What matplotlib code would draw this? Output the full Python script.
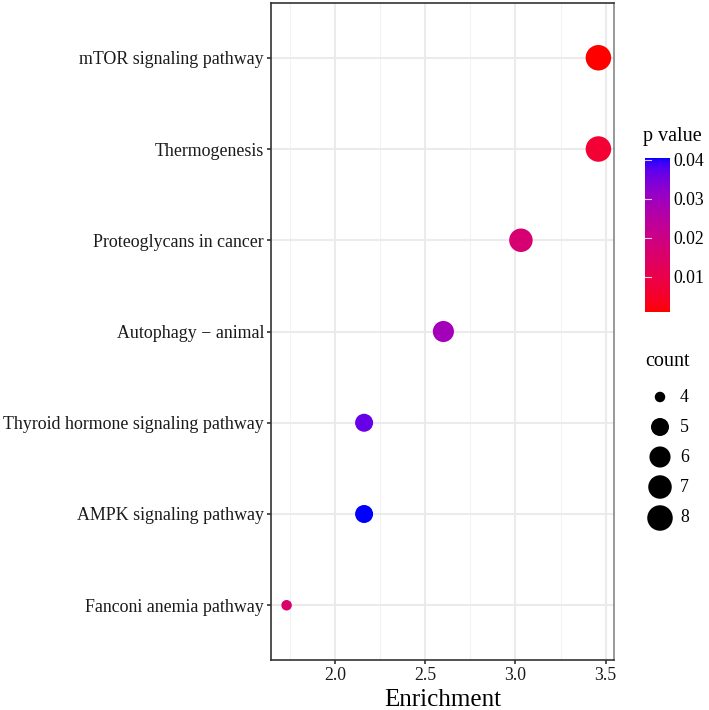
import numpy as np
import matplotlib
matplotlib.use("Agg")
import matplotlib.pyplot as plt
from matplotlib.colors import LinearSegmentedColormap, Normalize

plt.rcParams['font.family'] = ['Liberation Serif', 'DejaVu Serif']

# data (top to bottom as in the picture)
pathways = ["mTOR signaling pathway", "Thermogenesis", "Proteoglycans in cancer",
            "Autophagy \u2212 animal", "Thyroid hormone signaling pathway",
            "AMPK signaling pathway", "Fanconi anemia pathway"]
enrichment = [3.46, 3.46, 3.03, 2.60, 2.16, 2.16, 1.73]
pvalue = [0.0010, 0.0065, 0.0170, 0.0290, 0.0365, 0.0405, 0.0160]
count = [8, 8, 7, 6, 5, 5, 4]
legend_counts = [4, 5, 6, 7, 8]
cbar_ticks = [0.01, 0.02, 0.03, 0.04]


# red -> blue gradient interpolated in Lab like ggplot
def srgb_to_lab(rgb):
    c = np.array(rgb, dtype=float)
    c = np.where(c > 0.04045, ((c + 0.055) / 1.055) ** 2.4, c / 12.92)
    M = np.array([[0.4124, 0.3576, 0.1805], [0.2126, 0.7152, 0.0722], [0.0193, 0.1192, 0.9505]])
    xyz = M @ c / np.array([0.95047, 1.0, 1.08883])
    f = np.where(xyz > 0.008856, np.cbrt(xyz), 7.787 * xyz + 16 / 116)
    return np.array([116 * f[1] - 16, 500 * (f[0] - f[1]), 200 * (f[1] - f[2])])


def lab_to_srgb(lab):
    L, a, b = lab
    fy = (L + 16) / 116
    fx = fy + a / 500
    fz = fy - b / 200
    f = np.array([fx, fy, fz])
    xyz = np.where(f ** 3 > 0.008856, f ** 3, (f - 16 / 116) / 7.787) * np.array([0.95047, 1.0, 1.08883])
    Minv = np.array([[3.2406, -1.5372, -0.4986], [-0.9689, 1.8758, 0.0415], [0.0557, -0.2040, 1.0570]])
    c = Minv @ xyz
    c = np.clip(c, 0, 1)
    c = np.where(c > 0.0031308, 1.055 * c ** (1 / 2.4) - 0.055, 12.92 * c)
    return np.clip(c, 0, 1)


lab_lo = srgb_to_lab([1, 0, 0])
lab_hi = srgb_to_lab([0, 0, 1])
cols = [lab_to_srgb(lab_lo + t * (lab_hi - lab_lo)) for t in np.linspace(0, 1, 256)]
cmap = LinearSegmentedColormap.from_list("redblue", cols)
norm = Normalize(vmin=min(pvalue), vmax=max(pvalue))


def size_px(c):
    s = 1 + 5 * np.sqrt((np.asarray(c, dtype=float) - 4) / 4)
    return 3 * s + 7.5


def size_pt2(c):
    return (size_px(c) * 0.72) ** 2


fig = plt.figure(figsize=(7.09, 7.10), dpi=100)
ax = fig.add_axes([271 / 709, 1 - 660 / 710, 343 / 709, 657 / 710])

ypos = np.arange(len(pathways))[::-1]
ax.scatter(enrichment, ypos, s=size_pt2(count), c=pvalue, cmap=cmap, norm=norm,
           linewidths=0, zorder=3)

ax.set_xlim(1.6435, 3.5465)
ax.set_ylim(-0.6, len(pathways) - 0.4)
ax.set_yticks(ypos)
ax.set_yticklabels(pathways)
ax.set_xticks([2.0, 2.5, 3.0, 3.5])
ax.set_xticks([1.75, 2.25, 2.75, 3.25], minor=True)
ax.grid(True, which='major', color='#ebebeb', linewidth=1.5, zorder=0)
ax.grid(True, which='minor', axis='x', color='#f2f2f2', linewidth=0.8, zorder=0)
ax.set_axisbelow(True)
ax.tick_params(axis='both', which='major', length=3, width=1.2, color='#333333',
               labelsize=12.8, labelcolor='#1a1a1a', pad=2)
ax.tick_params(axis='y', labelsize=12.9)
ax.tick_params(which='minor', length=0)
for sp in ax.spines.values():
    sp.set_color('#333333')
    sp.set_linewidth(1.2)
ax.spines['right'].set_color('#888888')
ax.set_xlabel("Enrichment", fontsize=18, labelpad=4)

# colour bar
cax = fig.add_axes([645 / 709, 1 - 312 / 710, 24 / 709, 154 / 710])
grad = np.linspace(norm.vmin, norm.vmax, 256).reshape(-1, 1)
cax.imshow(grad, aspect='auto', cmap=cmap, norm=norm, origin='lower',
           extent=[0, 1, norm.vmin, norm.vmax])
cax.set_xlim(0, 1)
cax.set_ylim(norm.vmin, norm.vmax)
cax.set_xticks([])
cax.yaxis.tick_right()
cax.set_yticks(cbar_ticks)
cax.set_yticklabels([f"{t:.2f}" for t in cbar_ticks])
cax.tick_params(axis='y', length=0, labelsize=12.8, pad=3)
for t in cbar_ticks:
    cax.plot([0, 0.25], [t, t], color='white', linewidth=0.8, alpha=0.8)
for sp in cax.spines.values():
    sp.set_visible(False)
fig.text(643 / 709, 1 - 141 / 710, "p value", fontsize=14.5, ha='left', va='baseline')

# size legend
lax = fig.add_axes([640 / 709, 1 - 535 / 710, 60 / 709, 155 / 710])
lax.set_xlim(0, 60)
lax.set_ylim(535, 380)
ly = [397, 427, 457, 487, 518]
lax.scatter([20] * len(legend_counts), ly, s=size_pt2(legend_counts), color='black', linewidths=0)
for yy, c in zip(ly, legend_counts):
    lax.text(40, yy, str(c), fontsize=12.8, ha='left', va='center')
lax.axis('off')
fig.text(645 / 709, 1 - 362 / 710, "count", fontsize=14.5, ha='left', va='center')

fig.savefig("out.png", dpi=100)
